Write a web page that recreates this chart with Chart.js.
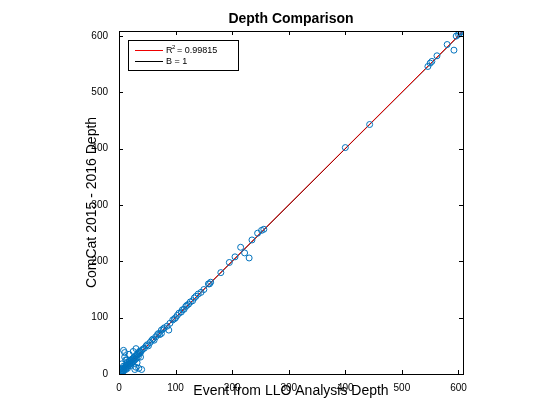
<!DOCTYPE html><html><head><script src="https://cdn.jsdelivr.net/npm/chart.js@4"></script>
<style>body{margin:0;background:#fff}</style></head><body>
<canvas id="c" width="560" height="420" style="width:560px;height:420px"></canvas>
<script>
const llo=[1,2,3,4,5,5,6,7,8,8,9,10,10,11,12,12,13,14,15,15,16,17,18,19,20,20,21,22,23,24,25,25,26,27,28,29,30,30,31,32,33,34,35,36,37,38,40,42,45,48,50,52,55,58,60,62,65,68,70,72,75,78,80,85,88,90,95,98,100,103,106,110,112,115,118,120,123,126,130,133,136,140,145,150,158,160,162,180,195,205,215,222,230,235,245,252,256,400,443,546,550,553,562,580,592,596,600,602,605,8,10,12,15,20,28,30,32,35,38,40,36,25,18,14,5,8,75];
const cc=[0,3,2,6,4,10,7,5,9,14,8,12,38,10,15,8,16,12,17,20,14,18,22,17,24,18,23,25,20,27,22,28,26,24,30,26,45,33,28,34,35,30,38,36,40,38,42,44,46,50,52,50,56,60,62,60,66,70,72,70,78,80,82,85,78,90,96,98,100,104,108,110,114,115,120,122,124,128,130,135,138,142,145,150,160,160,163,180,198,208,225,215,206,238,250,255,257,402,443,546,552,555,565,585,575,600,603,605,608,42,30,25,10,15,8,12,20,10,30,8,40,40,35,25,18,5,72];
const fitX=[0,606], fitY=[0.2,606.6], oneY=[0,606];
const xt=[0,100,200,300,400,500,600];
const pts=llo.map((x,i)=>({x,y:cc[i]}));
const frame={id:'frame',afterDraw(c){const ctx=c.ctx,a=c.chartArea;ctx.save();ctx.strokeStyle='#000';ctx.lineWidth=1;ctx.strokeRect(a.left+.5,a.top+.5,a.width,a.height);
const sx=c.scales.x,sy=c.scales.y;ctx.beginPath();xt.forEach(v=>{const p=Math.round(sx.getPixelForValue(v))+.5;ctx.moveTo(p,a.bottom);ctx.lineTo(p,a.bottom-4);ctx.moveTo(p,a.top);ctx.lineTo(p,a.top+4);
const q=Math.round(sy.getPixelForValue(v))+.5;ctx.moveTo(a.left,q);ctx.lineTo(a.left+4,q);ctx.moveTo(a.right,q);ctx.lineTo(a.right-4,q);});ctx.stroke();
ctx.font='bold 14px Liberation Sans, Arial';ctx.fillStyle='#000';ctx.textAlign='center';ctx.fillText('Depth Comparison',(a.left+a.right)/2,23);
const lx=128,ly=40;ctx.fillStyle='#fff';ctx.fillRect(lx,ly,110,30);ctx.strokeRect(lx+.5,ly+.5,110,30);
ctx.lineWidth=1;ctx.strokeStyle='#e00';ctx.beginPath();ctx.moveTo(135,50.5);ctx.lineTo(163,50.5);ctx.stroke();
ctx.strokeStyle='#000';ctx.beginPath();ctx.moveTo(135,61.5);ctx.lineTo(163,61.5);ctx.stroke();
ctx.font='9px Liberation Sans, Arial';ctx.textAlign='left';ctx.fillStyle='#000';ctx.textBaseline='middle';
ctx.fillText('R',166,51);ctx.font='6px Liberation Sans, Arial';ctx.fillText('2',172,47);ctx.font='9px Liberation Sans, Arial';ctx.fillText('= 0.99815',177,51);ctx.fillText('B = 1',166,62);
ctx.restore();}};
new Chart(document.getElementById('c'),{type:'scatter',data:{datasets:[
{data:pts,showLine:false,pointStyle:'circle',pointRadius:3,borderColor:'#0072bd',backgroundColor:'rgba(0,0,0,0)',borderWidth:1},
{data:fitX.map((x,i)=>({x,y:fitY[i]})),showLine:true,pointRadius:0,borderColor:'#e00',borderWidth:1},
{data:fitX.map((x,i)=>({x,y:oneY[i]})),showLine:true,pointRadius:0,borderColor:'#000',borderWidth:1}]},
options:{responsive:false,animation:false,layout:{padding:{top:31,right:97,left:80,bottom:16}},
plugins:{legend:{display:false},tooltip:{enabled:false}},
scales:{x:{type:'linear',min:0,max:608,afterFit(s){s.height=30},afterBuildTicks(s){s.ticks=xt.map(v=>({value:v}))},grid:{display:false},border:{display:false},
ticks:{font:{size:10,family:'Liberation Sans'},color:'#000',padding:0,maxRotation:0},title:{display:true,text:'Event from LLO Analysis Depth',font:{size:14,family:'Liberation Sans'},color:'#000',padding:{top:0}}},
y:{type:'linear',min:0,max:609,afterFit(s){s.width=39},afterBuildTicks(s){s.ticks=xt.map(v=>({value:v}))},grid:{display:false},border:{display:false},
ticks:{font:{size:10,family:'Liberation Sans'},color:'#000',padding:3},title:{display:true,text:'ComCat 2015 - 2016 Depth',font:{size:14,family:'Liberation Sans'},color:'#000'}}}},
plugins:[frame]});
</script></body></html>
